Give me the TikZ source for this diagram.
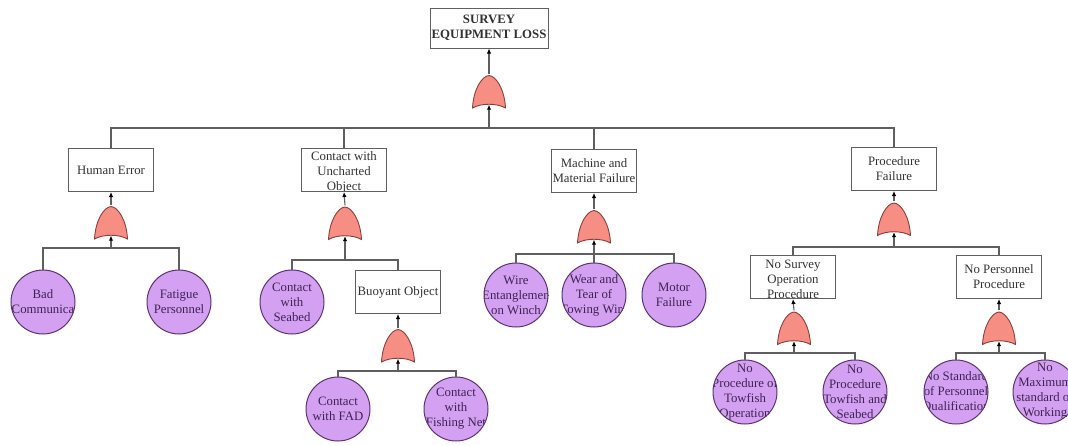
\documentclass[tikz,border=0pt]{standalone}
\usepackage{fontspec}
\setmainfont{Liberation Serif}
\usetikzlibrary{arrows.meta}
\definecolor{gatefill}{RGB}{246,142,132}
\definecolor{gateline}{RGB}{140,62,62}
\definecolor{circfill}{RGB}{212,160,242}
\definecolor{circline}{RGB}{92,52,112}
\definecolor{wiregray}{RGB}{95,95,95}
\definecolor{txtgray}{RGB}{50,50,50}
\definecolor{txtpurple}{RGB}{62,36,82}

\begin{document}
\begin{tikzpicture}[x=1pt,y=1pt,
  evbox/.style={draw=wiregray,fill=white,line width=1pt,minimum width=85pt,minimum height=43pt,
    inner xsep=0pt,inner ysep=1pt,align=center,text=txtgray,font=\fontsize{12.8}{15}\selectfont},
  boxtext/.style={align=center,text=txtgray,inner sep=0pt,font=\fontsize{12.8}{15}\selectfont},
  clipbox/.style={evbox,path picture={\node[boxtext,anchor=north] at ([yshift=-2pt]path picture bounding box.north) {#1};}},
  basictext/.style={align=center,text=txtpurple,inner sep=0pt,font=\fontsize{12.8}{15}\selectfont},
  basic/.style={circle,draw=circline,fill=circfill,line width=1pt,minimum size=64pt,inner sep=0pt,
    path picture={\node[basictext] at (path picture bounding box.center) {#1};}},
  lowbasic/.style={basic={},
    path picture={\node[basictext] at ([yshift=-5pt]path picture bounding box.center) {#1};}},
  orgate/.style={minimum width=35pt,minimum height=36pt,inner sep=0pt,
    path picture={\coordinate (pc) at (path picture bounding box.center);
      \filldraw[fill=gatefill,draw=gateline,line width=0.9pt]
        ([shift={(-16.5,-16)}]pc) .. controls ([shift={(-15.5,3)}]pc) and ([shift={(-7,16)}]pc) .. ([shift={(0,16.5)}]pc)
        .. controls ([shift={(7,16)}]pc) and ([shift={(15.5,3)}]pc) .. ([shift={(16.5,-16)}]pc)
        .. controls ([shift={(8,-11)}]pc) and ([shift={(-8,-11)}]pc) .. cycle;}},
  wire/.style={draw=wiregray,line width=1.1pt},
  up/.style={wire,-{Latex[length=5pt,width=4.5pt,color=black]}}]
\path[use as bounding box,clip] (0,0) rectangle (1068,-445);

\node[evbox,font=\bfseries\fontsize{12.8}{15}\selectfont,minimum width=118pt,minimum height=40pt] (top) at (489,-28) {SURVEY\\EQUIPMENT LOSS};
\node[orgate] (g0) at (489,-92) {};
\coordinate (b0) at (489,-128);
\node[evbox] (he) at (111,-170) {Human Error};
\node[clipbox={Contact with\\Uncharted\\Object}] (cu) at (344,-170) {};
\node[evbox] (mm) at (594,-171) {Machine and\\Material Failure};
\node[evbox] (pf) at (894,-169) {Procedure\\Failure};
\draw[up] (g0.north) -- (top.south);
\draw[up] (b0) -- ([yshift=5.5pt]g0.south);
\draw[wire] (he.north) |- (b0) -| (pf.north);
\draw[wire] (cu.north) -- (cu.north |- b0);
\draw[wire] (mm.north) -- (mm.north |- b0);

\node[orgate] (g1) at (111,-223) {};
\coordinate (b1) at (111,-248);
\node[basic={Bad\\Communica}] (bad) at (43,-302) {};
\node[basic={Fatigue\\Personnel}] (fat) at (179,-302) {};
\draw[up] (g1.north) -- (he.south);
\draw[up] (b1) -- ([yshift=5.5pt]g1.south);
\draw[wire] (bad.north) |- (b1) -| (fat.north);

\node[orgate] (g2) at (345,-223.5) {};
\coordinate (b2) at (345,-260);
\node[basic={Contact\\with\\Seabed}] (cs) at (292,-302) {};
\node[evbox] (bo) at (398,-292) {Buoyant Object};
\draw[up] (g2.north) -- (cu.south);
\draw[up] (b2) -- ([yshift=5.5pt]g2.south);
\draw[wire] (cs.north) |- (b2) -| (bo.north);

\node[orgate] (g3) at (398,-346) {};
\coordinate (b3) at (398,-371);
\node[basic={Contact\\with FAD}] (fad) at (338,-409) {};
\node[basic={Contact\\with\\Fishing Net}] (fn) at (456,-409) {};
\draw[up] (g3.north) -- (bo.south);
\draw[up] (b3) -- ([yshift=5.5pt]g3.south);
\draw[wire] (fad.north) |- (b3) -| (fn.north);

\node[orgate] (g4) at (594,-227) {};
\coordinate (b4) at (594,-254);
\node[basic={Wire\\Entanglemen\\on Winch}] (wi) at (516,-295) {};
\node[basic={Wear and\\Tear of\\Towing Wire}] (we) at (594,-295) {};
\node[basic={Motor\\Failure}] (mo) at (674,-295) {};
\draw[up] (g4.north) -- (mm.south);
\draw[up] (b4) -- ([yshift=5.5pt]g4.south);
\draw[wire] (wi.north) |- (b4) -| (mo.north);
\draw[wire] (we.north) -- (b4);

\node[orgate] (g5) at (894,-219.5) {};
\coordinate (b5) at (894,-247);
\node[clipbox={No Survey\\Operation\\Procedure}] (ns) at (793,-277) {};
\node[evbox] (np) at (999,-277) {No Personnel\\Procedure};
\draw[up] (g5.north) -- (pf.south);
\draw[up] (b5) -- ([yshift=5.5pt]g5.south);
\draw[wire] (ns.north) |- (b5) -| (np.north);

\node[orgate] (g6) at (794,-328.5) {};
\coordinate (b6) at (794,-353);
\node[basic={\baselineskip=14pt No\\Procedure of\\Towfish\\Operation}] (pt) at (745,-392) {};
\node[basic={\baselineskip=14pt No\\Procedure\\Towfish and\\Seabed}] (ps) at (855,-392) {};
\draw[up] (g6.north) -- (ns.south);
\draw[up] (b6) -- ([yshift=5.5pt]g6.south);
\draw[wire] (pt.north) |- (b6) -| (ps.north);

\node[orgate] (g7) at (999,-328.5) {};
\coordinate (b7) at (999,-353);
\node[basic={No Standard\\of Personnel\\Qualification}] (st) at (956,-392) {};
\node[lowbasic={\baselineskip=14.5pt No\\Maximum\\standard of\\Working\\Hours}] (mx) at (1045,-392) {};
\draw[up] (g7.north) -- (np.south);
\draw[up] (b7) -- ([yshift=5.5pt]g7.south);
\draw[wire] (st.north) |- (b7) -| (mx.north);
\end{tikzpicture}
\end{document}
